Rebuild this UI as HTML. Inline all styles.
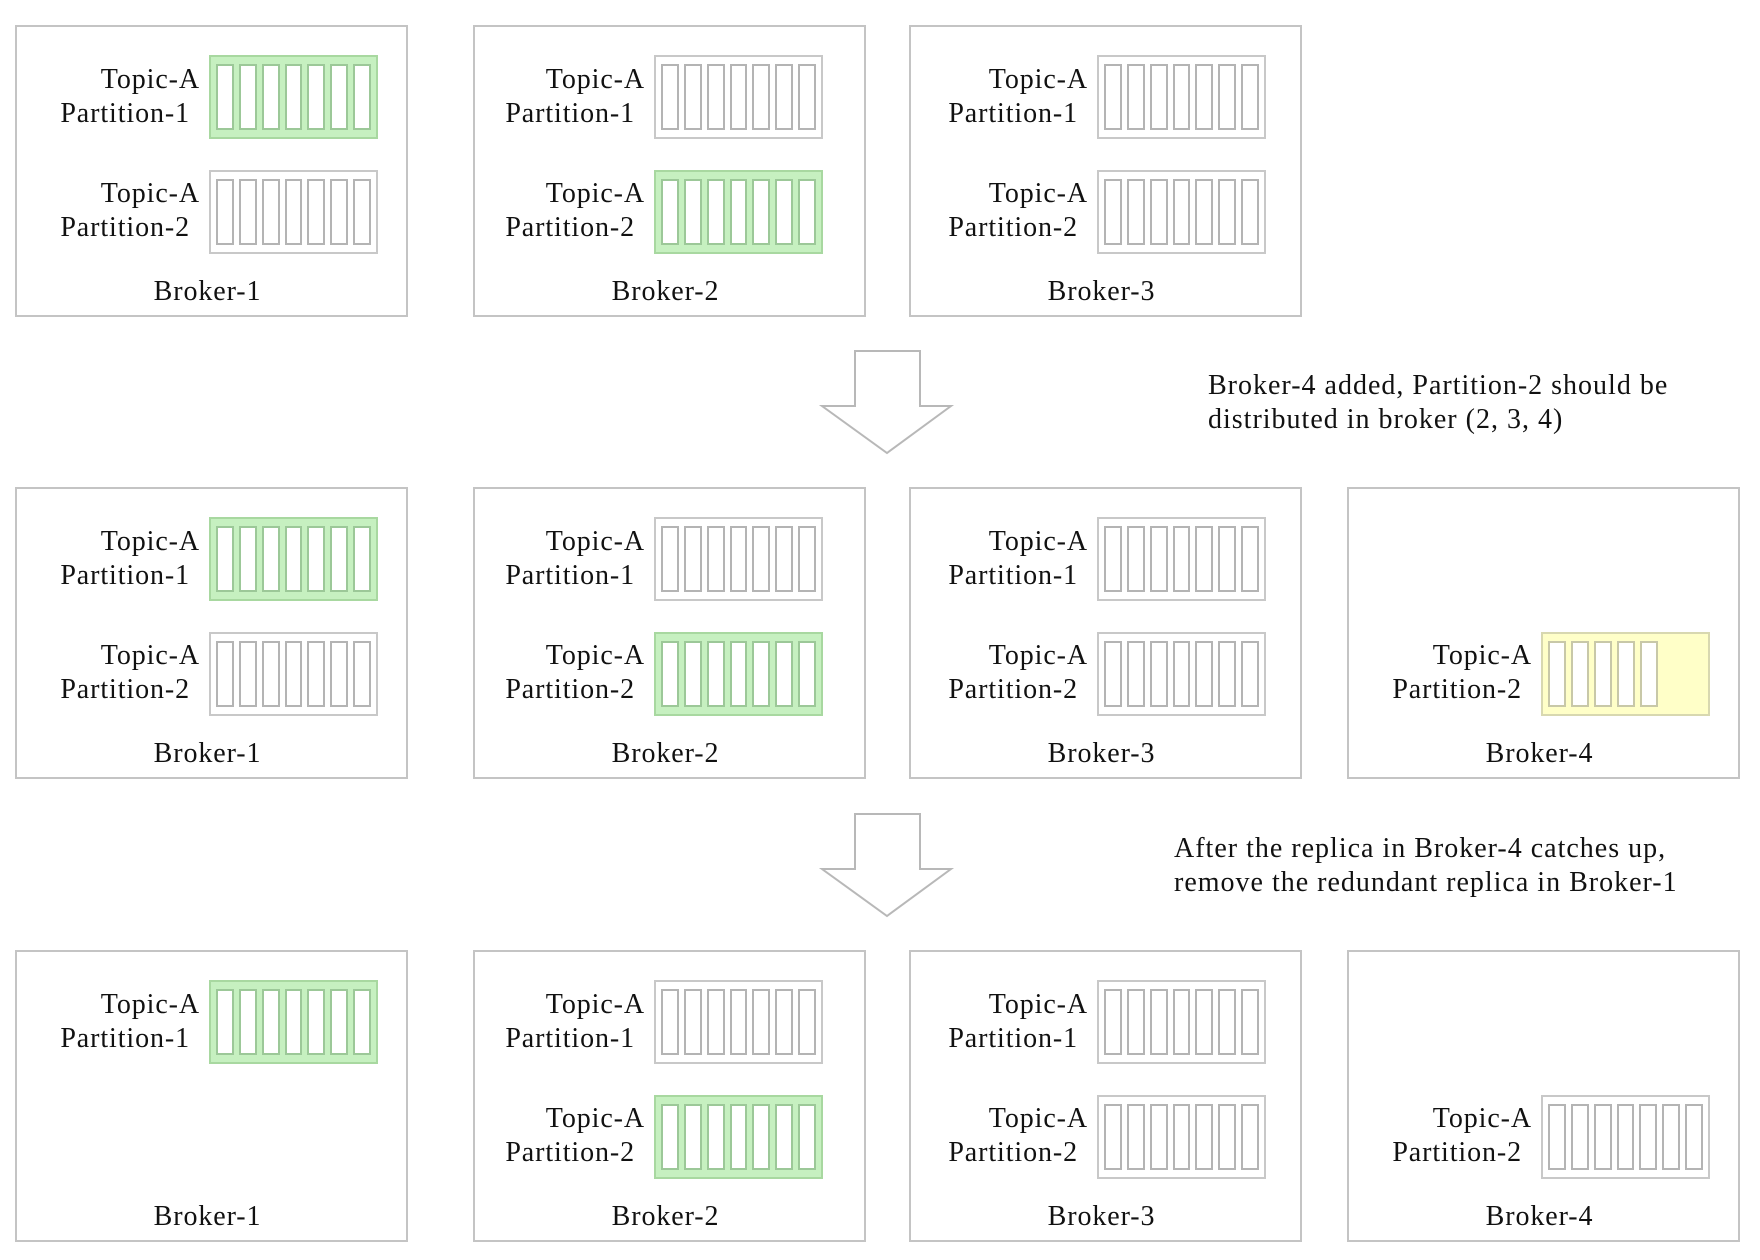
<!DOCTYPE html>
<html><head><meta charset="utf-8"><style>
body{margin:0;width:1760px;height:1260px;background:#fff;position:relative;overflow:hidden;font-family:"Liberation Serif",serif;color:#111}
.b{position:absolute;width:393px;height:292px;border:2px solid #c4c4c4;box-sizing:border-box}
.t{position:absolute;left:0;width:183px;text-align:right;font-size:28px;line-height:34px;letter-spacing:0.9px;white-space:nowrap}
.t.q{width:173px}
.n{position:absolute;left:-4px;width:100%;top:248px;text-align:center;font-size:28px;line-height:34px;letter-spacing:0.9px}
.p{position:absolute;left:192px;width:169px;height:84px;box-sizing:border-box;border:2px solid #c8c8c8;background:#fff;display:flex;gap:5px;padding:7px 5px}
.p.g{background:#c6f0c0;border-color:#a8d8a0}
.p.y{background:#ffffc8;border-color:#d8d8b0}
.p i{display:block;width:18px;height:100%;box-sizing:border-box;border:2px solid #b4b4b4;background:#fff}
.p.g i{border-color:#9cc898}
.p.y i{border-color:#c8c8a8}
.s2 .t,.s2 .p{margin-left:-13px}
.s3 .t,.s3 .p{margin-left:-6px}
.a{position:absolute;font-size:28px;line-height:34px;letter-spacing:1px;white-space:nowrap}
</style></head><body>

<!-- Row 1 -->
<div class="b" style="left:15px;top:25px">
<div class="t" style="top:36px">Topic-A</div><div class="t q" style="top:70px">Partition-1</div>
<div class="p g" style="top:28px"><i></i><i></i><i></i><i></i><i></i><i></i><i></i></div>
<div class="t" style="top:150px">Topic-A</div><div class="t q" style="top:184px">Partition-2</div>
<div class="p" style="top:143px"><i></i><i></i><i></i><i></i><i></i><i></i><i></i></div>
<div class="n">Broker-1</div></div>

<div class="b s2" style="left:473px;top:25px">
<div class="t" style="top:36px">Topic-A</div><div class="t q" style="top:70px">Partition-1</div>
<div class="p" style="top:28px"><i></i><i></i><i></i><i></i><i></i><i></i><i></i></div>
<div class="t" style="top:150px">Topic-A</div><div class="t q" style="top:184px">Partition-2</div>
<div class="p g" style="top:143px"><i></i><i></i><i></i><i></i><i></i><i></i><i></i></div>
<div class="n">Broker-2</div></div>

<div class="b s3" style="left:909px;top:25px">
<div class="t" style="top:36px">Topic-A</div><div class="t q" style="top:70px">Partition-1</div>
<div class="p" style="top:28px"><i></i><i></i><i></i><i></i><i></i><i></i><i></i></div>
<div class="t" style="top:150px">Topic-A</div><div class="t q" style="top:184px">Partition-2</div>
<div class="p" style="top:143px"><i></i><i></i><i></i><i></i><i></i><i></i><i></i></div>
<div class="n">Broker-3</div></div>

<!-- Row 2 -->
<div class="b" style="left:15px;top:487px">
<div class="t" style="top:36px">Topic-A</div><div class="t q" style="top:70px">Partition-1</div>
<div class="p g" style="top:28px"><i></i><i></i><i></i><i></i><i></i><i></i><i></i></div>
<div class="t" style="top:150px">Topic-A</div><div class="t q" style="top:184px">Partition-2</div>
<div class="p" style="top:143px"><i></i><i></i><i></i><i></i><i></i><i></i><i></i></div>
<div class="n">Broker-1</div></div>

<div class="b s2" style="left:473px;top:487px">
<div class="t" style="top:36px">Topic-A</div><div class="t q" style="top:70px">Partition-1</div>
<div class="p" style="top:28px"><i></i><i></i><i></i><i></i><i></i><i></i><i></i></div>
<div class="t" style="top:150px">Topic-A</div><div class="t q" style="top:184px">Partition-2</div>
<div class="p g" style="top:143px"><i></i><i></i><i></i><i></i><i></i><i></i><i></i></div>
<div class="n">Broker-2</div></div>

<div class="b s3" style="left:909px;top:487px">
<div class="t" style="top:36px">Topic-A</div><div class="t q" style="top:70px">Partition-1</div>
<div class="p" style="top:28px"><i></i><i></i><i></i><i></i><i></i><i></i><i></i></div>
<div class="t" style="top:150px">Topic-A</div><div class="t q" style="top:184px">Partition-2</div>
<div class="p" style="top:143px"><i></i><i></i><i></i><i></i><i></i><i></i><i></i></div>
<div class="n">Broker-3</div></div>

<div class="b" style="left:1347px;top:487px">
<div class="t" style="top:150px">Topic-A</div><div class="t q" style="top:184px">Partition-2</div>
<div class="p y" style="top:143px"><i></i><i></i><i></i><i></i><i></i></div>
<div class="n">Broker-4</div></div>

<!-- Row 3 -->
<div class="b" style="left:15px;top:950px">
<div class="t" style="top:36px">Topic-A</div><div class="t q" style="top:70px">Partition-1</div>
<div class="p g" style="top:28px"><i></i><i></i><i></i><i></i><i></i><i></i><i></i></div>
<div class="n">Broker-1</div></div>

<div class="b s2" style="left:473px;top:950px">
<div class="t" style="top:36px">Topic-A</div><div class="t q" style="top:70px">Partition-1</div>
<div class="p" style="top:28px"><i></i><i></i><i></i><i></i><i></i><i></i><i></i></div>
<div class="t" style="top:150px">Topic-A</div><div class="t q" style="top:184px">Partition-2</div>
<div class="p g" style="top:143px"><i></i><i></i><i></i><i></i><i></i><i></i><i></i></div>
<div class="n">Broker-2</div></div>

<div class="b s3" style="left:909px;top:950px">
<div class="t" style="top:36px">Topic-A</div><div class="t q" style="top:70px">Partition-1</div>
<div class="p" style="top:28px"><i></i><i></i><i></i><i></i><i></i><i></i><i></i></div>
<div class="t" style="top:150px">Topic-A</div><div class="t q" style="top:184px">Partition-2</div>
<div class="p" style="top:143px"><i></i><i></i><i></i><i></i><i></i><i></i><i></i></div>
<div class="n">Broker-3</div></div>

<div class="b" style="left:1347px;top:950px">
<div class="t" style="top:150px">Topic-A</div><div class="t q" style="top:184px">Partition-2</div>
<div class="p" style="top:143px"><i></i><i></i><i></i><i></i><i></i><i></i><i></i></div>
<div class="n">Broker-4</div></div>

<!-- Arrows -->
<svg style="position:absolute;left:0;top:0" width="1760" height="1260">
<polygon points="855,351 920,351 920,406 951,406 887,453 822,406 855,406" fill="#fff" stroke="#b8b8b8" stroke-width="2"/>
<polygon points="855,814 920,814 920,869 951,869 887,916 822,869 855,869" fill="#fff" stroke="#b8b8b8" stroke-width="2"/>
</svg>

<div class="a" style="left:1208px;top:369px">Broker-4 added, Partition-2 should be</div>
<div class="a" style="left:1208px;top:403px">distributed in broker (2, 3, 4)</div>
<div class="a" style="left:1174px;top:832px">After the replica in Broker-4 catches up,</div>
<div class="a" style="left:1174px;top:866px">remove the redundant replica in Broker-1</div>
</body></html>
